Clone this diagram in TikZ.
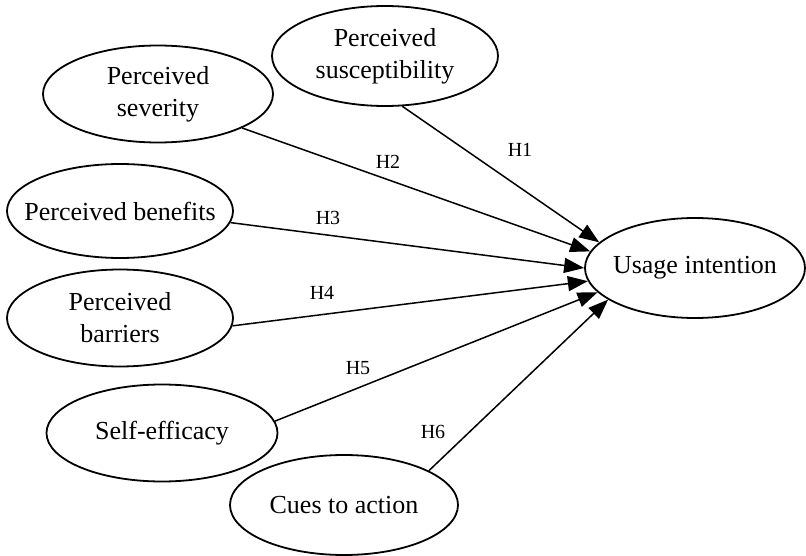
\documentclass[tikz,border=0pt]{standalone}
\usepackage{fontspec}
\setmainfont{Liberation Serif}
\usetikzlibrary{shapes.geometric, arrows.meta}

\begin{document}
\begin{tikzpicture}[x=1pt, y=-1pt, font=\fontsize{26}{32}\selectfont,
  construct/.style={draw, ellipse, line width=1.8pt, inner xsep=-20pt, inner ysep=0pt, align=center},
  hyp/.style={-{Triangle[length=20pt, width=15pt]}, line width=1.5pt},
  hlabel/.style={font=\fontsize{20}{24}\selectfont}]
  \useasboundingbox (0,0) rectangle (806,556);
  \node[construct, minimum width=226pt, minimum height=100pt] (susc) at (385,56) {Perceived\\susceptibility};
  \node[construct, minimum width=230pt, minimum height=97pt] (sev) at (158,94) {Perceived\\severity};
  \node[construct, minimum width=226pt, minimum height=94pt] (ben) at (120,211) {Perceived benefits};
  \node[construct, minimum width=226pt, minimum height=97pt] (bar) at (120,318) {Perceived\\barriers};
  \node[construct, minimum width=231pt, minimum height=97pt] (self) at (162,433) {Self-efficacy};
  \node[construct, minimum width=228pt, minimum height=100pt] (cues) at (344,505) {Cues to action};
  \node[construct, minimum width=220pt, minimum height=100pt] (usage) at (695,268) {Usage intention};
  % hypotheses
  \foreach \src/\out/\in in {susc/289/165, sev/338/171, ben/354/180, bar/356/187, self/6/194, cues/22/200}
    \draw[hyp] (\src.\out) -- (usage.\in);
  \foreach \n/\x/\y in {1/520/150, 2/388/162, 3/328/218, 4/322/293, 5/358/368, 6/433/432}
    \node[hlabel] (h\n) at (\x,\y) {H\n};
\end{tikzpicture}
\end{document}
